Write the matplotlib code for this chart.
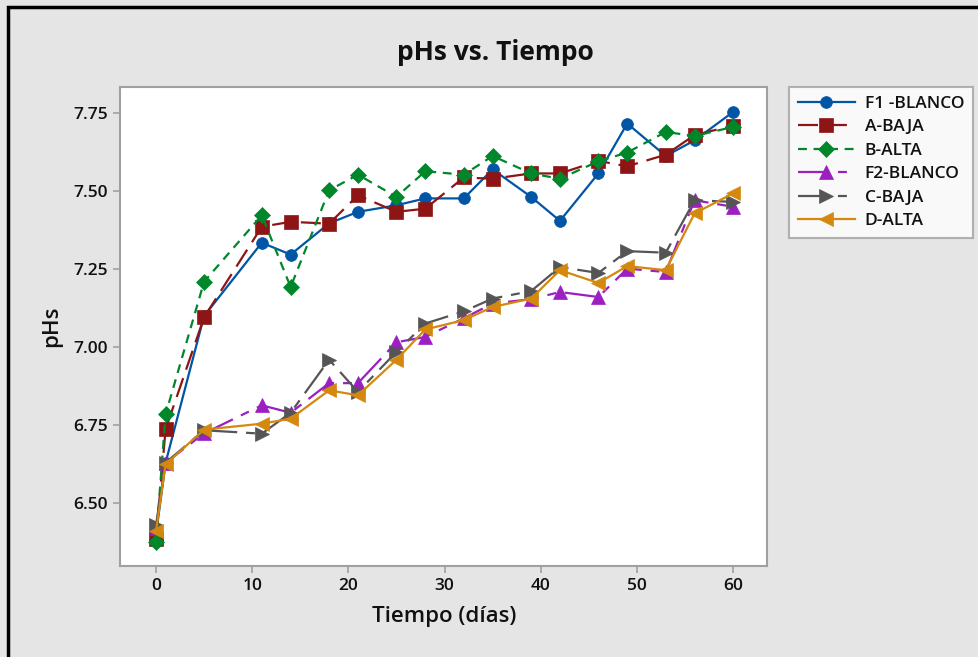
import matplotlib
matplotlib.use("Agg")
import matplotlib.pyplot as plt
from matplotlib.patches import Rectangle

plt.rcParams['font.family'] = ['Open Sans', 'DejaVu Sans']

days = [0, 1, 5, 11, 14, 18, 21, 25, 28, 32, 35, 39, 42, 46, 49, 53, 56, 60]

f1_blanco = [6.40, 6.63, 7.10, 7.335, 7.297, 7.397, 7.434, 7.455, 7.477, 7.477, 7.57, 7.482, 7.405, 7.557, 7.717, 7.613, 7.663, 7.754]
a_baja    = [6.385, 6.737, 7.096, 7.386, 7.402, 7.396, 7.487, 7.434, 7.444, 7.544, 7.54, 7.557, 7.557, 7.597, 7.58, 7.617, 7.68, 7.71]
b_alta    = [6.376, 6.785, 7.21, 7.423, 7.193, 7.503, 7.553, 7.482, 7.564, 7.553, 7.613, 7.557, 7.54, 7.596, 7.624, 7.69, 7.677, 7.706]
f2_blanco = [6.42, 6.63, 6.724, 6.814, 6.79, 6.885, 6.885, 7.016, 7.033, 7.093, 7.14, 7.154, 7.177, 7.161, 7.252, 7.241, 7.471, 7.45]
c_baja    = [6.43, 6.63, 6.734, 6.723, 6.79, 6.96, 6.857, 6.985, 7.076, 7.115, 7.156, 7.18, 7.257, 7.238, 7.308, 7.303, 7.471, 7.466]
d_alta    = [6.41, 6.625, 6.736, 6.755, 6.771, 6.862, 6.846, 6.96, 7.057, 7.087, 7.129, 7.156, 7.247, 7.206, 7.26, 7.247, 7.429, 7.493]

labels = ["F1 -BLANCO", "A-BAJA", "B-ALTA", "F2-BLANCO", "C-BAJA", "D-ALTA"]
xticks = [0, 10, 20, 30, 40, 50, 60]
yticks = [6.50, 6.75, 7.00, 7.25, 7.50, 7.75]

series = [f1_blanco, a_baja, b_alta, f2_blanco, c_baja, d_alta]
colors = ["#0055a5", "#8e1515", "#00872c", "#9b1fc1", "#555555", "#d4880e"]
markers = ["o", "s", "D", "^", ">", "<"]
msizes = [8.5, 9.5, 8.5, 10.5, 10.5, 10.5]
styles = ["-", (0, (9, 4)), (0, (4, 3)), (0, (14, 4, 4, 4)), (0, (14, 4, 4, 4)), "-"]

bg = "#e5e5e5"
fig = plt.figure(figsize=(9.79, 6.57), dpi=100, facecolor=bg)
ax = fig.add_axes([120/979, 1-566/657, (767.5-120)/979, (566-87)/657])
ax.set_facecolor("white")

handles = []
for vals, c, m, ms, ls, lab in zip(series, colors, markers, msizes, styles, labels):
    h, = ax.plot(days, vals, color=c, marker=m, markersize=ms, linestyle=ls,
                 linewidth=1.6, label=lab, markeredgewidth=0.5, markeredgecolor=c)
    handles.append(h)

ax.set_xlim(-3.74, 63.58)
ax.set_ylim(6.299, 7.834)
ax.set_xticks(xticks)
ax.set_yticks(yticks)
ax.set_yticklabels([f"{v:.2f}" for v in yticks])
for sp in ax.spines.values():
    sp.set_color("#a0a0a0")
    sp.set_linewidth(1.5)
ax.tick_params(axis='both', colors="#a0a0a0", length=5, width=1.2, labelcolor="#111111",
               labelsize=12.5)
for t in ax.get_xticklabels() + ax.get_yticklabels():
    t.set_fontweight('semibold')

ax.set_xlabel("Tiempo (días)", fontsize=16, fontweight='semibold', labelpad=9, color="#111111")
ax.set_ylabel("pHs", fontsize=16, fontweight='semibold', labelpad=8, color="#111111")
fig.text(0.506, 1-52/657, "pHs vs. Tiempo", ha='center', va='center', fontsize=19,
         fontweight='bold', color="#111111")

leg = fig.legend(handles=handles, labels=labels, loc='upper left',
                 bbox_to_anchor=(789/979, 1-87/657), bbox_transform=fig.transFigure,
                 fancybox=False, frameon=True, fontsize=12.5, handlelength=3.3,
                 borderpad=0.5, labelspacing=0.42, handletextpad=0.55, borderaxespad=0)
leg.get_frame().set_edgecolor("#a0a0a0")
leg.get_frame().set_linewidth(1.5)
for t in leg.get_texts():
    t.set_fontweight('semibold')
    t.set_color("#111111")

fig.patches.append(Rectangle((8/979, -0.1), 1.2, 1 - 7/657 + 0.1, transform=fig.transFigure,
                             fill=False, edgecolor="black", linewidth=2.5, zorder=10))

fig.savefig("out.png", dpi=100, facecolor=bg)
